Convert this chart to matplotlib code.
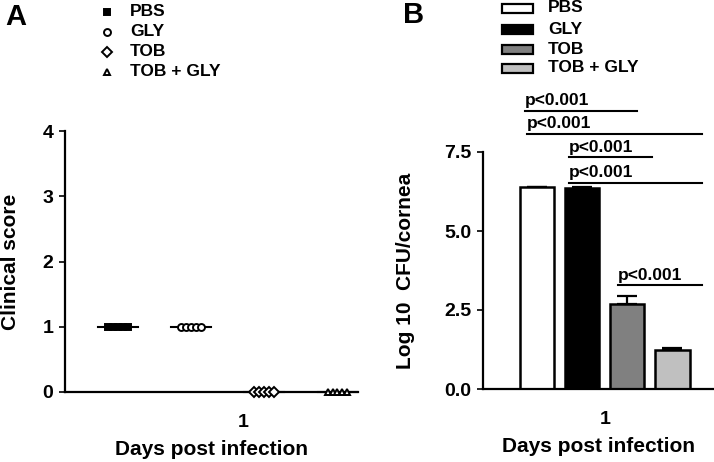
import numpy as np
import matplotlib
matplotlib.use('Agg')
import matplotlib.pyplot as plt
from matplotlib.lines import Line2D
from matplotlib.patches import Rectangle

plt.rcParams['font.family'] = ['Liberation Sans', 'DejaVu Sans']
plt.rcParams['font.weight'] = 'bold'

# data
groups = ['PBS', 'GLY', 'TOB', 'TOB + GLY']
clinical_scores = [
    [1, 1, 1, 1, 1],
    [1, 1, 1, 1, 1],
    [0, 0, 0, 0, 0],
    [0, 0, 0, 0, 0],
]
log_cfu = [6.38, 6.36, 2.69, 1.23]
log_cfu_sem = [0.02, 0.04, 0.25, 0.08]

# significance bars: (x start, x end, height)
sig_bars = [
    (0.93, 3.41, 8.80),
    (0.98, 4.86, 8.07),
    (1.91, 3.75, 7.34),
    (1.91, 4.86, 6.52),
    (2.99, 4.86, 3.29),
]
sig_label = 'p<0.001'

markers = ['s', 'o', 'D', '^']
marker_faces = ['black', 'white', 'white', 'white']
bar_colors = ['white', 'black', '#808080', '#c0c0c0']

W, H = 714, 462
fig = plt.figure(figsize=(W / 100, H / 100), dpi=100)

def fig_box(x0, y0, x1, y1):
    # pixel box -> figure fraction rect
    return [x0 / W, 1 - y1 / H, (x1 - x0) / W, (y1 - y0) / H]

# ---- panel A ----
axA = fig.add_axes(fig_box(65, 131, 358, 392))
centers_a = np.array([0.72, 1.72, 2.72, 3.72])
jitter = np.array([-2, -1, 0, 1, 2]) * 0.068
for i, g in enumerate(groups):
    ys = np.array(clinical_scores[i])
    axA.plot(centers_a[i] + jitter, ys, linestyle='none', marker=markers[i],
             ms=5, mfc=marker_faces[i], mec='black', mew=1.4, clip_on=False, zorder=3)
    med = np.median(ys)
    axA.plot([centers_a[i] - 0.27, centers_a[i] + 0.27], [med, med], color='black',
             lw=1.5, clip_on=False, zorder=2)
axA.set_xlim(0, 4)
axA.set_ylim(0, 4)
axA.set_yticks([0, 1, 2, 3, 4])
axA.set_xticks([2.43])
axA.set_xticklabels(['1'])
axA.set_ylabel('Clinical score', fontsize=15, fontweight='bold')
axA.yaxis.set_label_coords(-0.154, 0.5)
axA.set_xlabel('Days post infection', fontsize=15, fontweight='bold', labelpad=6)

# ---- panel B ----
axB = fig.add_axes(fig_box(483, 152, 713, 389))
centers_b = np.array([1.2, 2.2, 3.2, 4.2])
axB.bar(centers_b, log_cfu, width=0.76, color=bar_colors, edgecolor='black',
        linewidth=1.8, zorder=2)
axB.errorbar(centers_b, log_cfu, yerr=[np.zeros(4), log_cfu_sem], fmt='none',
             ecolor='black', elinewidth=1.6, capsize=7, capthick=1.6, zorder=1)
for x0, x1, y in sig_bars:
    axB.plot([x0, x1], [y, y], color='black', lw=1.5, clip_on=False)
    axB.text(x0, y + 0.08, sig_label, fontsize=12.5, fontweight='bold',
             ha='left', va='bottom', clip_on=False)
axB.set_xlim(0, 5.1)
axB.set_ylim(0, 7.5)
axB.set_yticks([0, 2.5, 5.0, 7.5])
axB.set_yticklabels(['0.0', '2.5', '5.0', '7.5'])
axB.set_xticks([2.7])
axB.set_xticklabels(['1'])
axB.set_ylabel('Log 10  CFU/cornea', fontsize=15, fontweight='bold')
axB.yaxis.set_label_coords(-0.296, 0.5)
axB.set_xlabel('Days post infection', fontsize=15, fontweight='bold', labelpad=6)

for ax in (axA, axB):
    for side in ('top', 'right'):
        ax.spines[side].set_visible(False)
    for side in ('left', 'bottom'):
        ax.spines[side].set_linewidth(1.6)
    ax.tick_params(axis='y', length=4.5, width=1.2, labelsize=14, pad=4)
    ax.tick_params(axis='x', length=0, labelsize=14, pad=16)
    for lab in ax.get_xticklabels() + ax.get_yticklabels():
        lab.set_fontweight('bold')

# ---- legends ----
leg_a_rows = [12, 32, 52, 72]
for i, g in enumerate(groups):
    yf = 1 - leg_a_rows[i] / H
    fig.add_artist(Line2D([107 / W], [yf], marker=markers[i], ms=5,
                          mfc=marker_faces[i], mec='black', mew=1.4,
                          linestyle='none', transform=fig.transFigure))
    fig.text(130 / W, yf, g, fontsize=12.5, fontweight='bold', va='center')

leg_b_rows = [8, 29, 49, 68]
for i, g in enumerate(groups):
    yc = leg_b_rows[i]
    fig.add_artist(Rectangle((502 / W, 1 - (yc + 4.5) / H), 31 / W, 9 / H,
                             facecolor=bar_colors[i], edgecolor='black',
                             linewidth=1.6, transform=fig.transFigure))
    fig.text(548 / W, 1 - yc / H, g, fontsize=12.5, fontweight='bold', va='center')

fig.text(5 / W, 1 - 17 / H, 'A', fontsize=21, fontweight='bold', va='center')
fig.text(403 / W, 1 - 15 / H, 'B', fontsize=21, fontweight='bold', va='center')

fig.savefig('out.png', dpi=100)
